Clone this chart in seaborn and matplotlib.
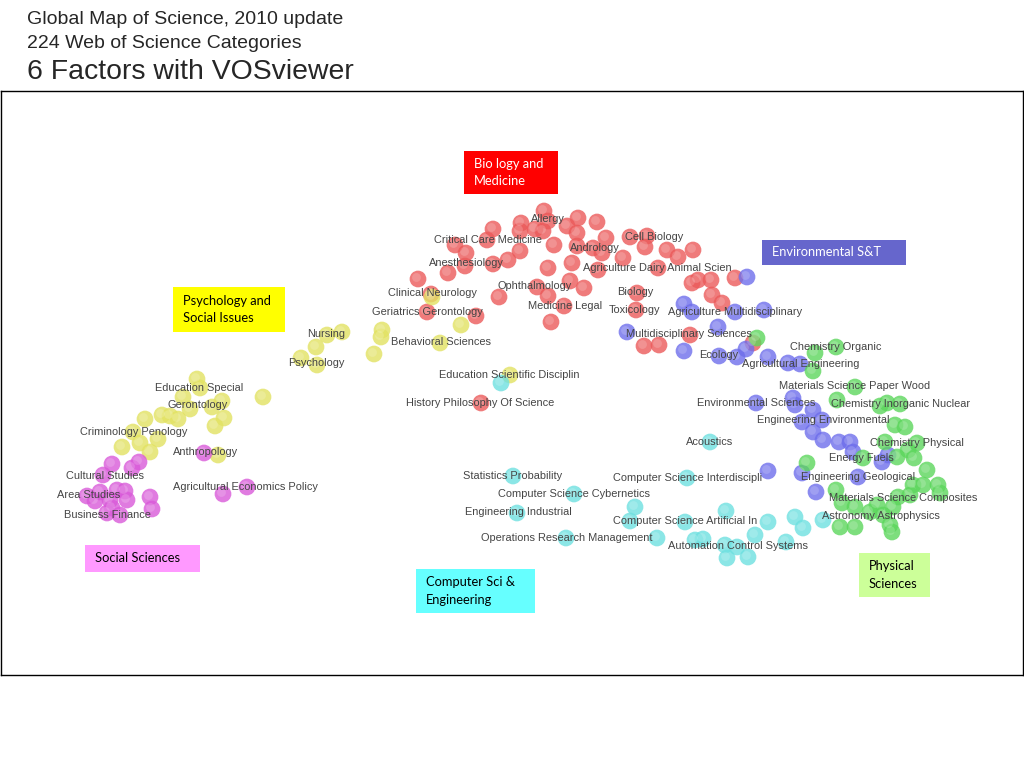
import matplotlib
matplotlib.use("Agg")
import matplotlib.pyplot as plt
import seaborn as sns
import pandas as pd
from matplotlib.patches import Rectangle

# ---------------- data (map coordinates) ----------------
bio_x = [544, 521, 548, 535, 543, 578, 597, 493, 520, 567, 577, 606, 455, 466, 487, 520,
         554, 577, 593, 602, 623, 630, 647, 645, 667, 678, 693, 508, 493, 465, 448, 548,
         572, 598, 658, 418, 537, 548, 570, 584, 499, 564, 551, 427, 476, 637, 636, 692,
         698, 711, 712, 722, 735, 690, 644, 659, 753, 481, 431]
bio_y = [211, 223, 221, 229, 231, 218, 222, 229, 231, 226, 233, 238, 245, 253, 240, 251,
         245, 246, 248, 253, 258, 237, 236, 247, 250, 257, 250, 260, 264, 266, 273, 268,
         263, 270, 268, 279, 287, 296, 281, 288, 297, 306, 322, 312, 316, 293, 310, 283,
         280, 280, 295, 303, 278, 335, 346, 345, 343, 403, 294]

psy_x = [342, 327, 316, 301, 317, 382, 381, 374, 263, 197, 200, 183, 222, 212, 190, 162,
         178, 145, 170, 224, 215, 133, 140, 158, 122, 150, 218, 432, 461, 440, 510]
psy_y = [332, 335, 347, 358, 365, 330, 337, 354, 397, 379, 388, 397, 401, 407, 409, 415,
         419, 419, 416, 418, 426, 432, 443, 439, 447, 452, 455, 297, 325, 343, 375]

soc_x = [204, 112, 139, 132, 103, 87, 95, 117, 125, 110, 127, 150, 152, 107, 120, 223,
         247, 112, 100]
soc_y = [453, 464, 462, 468, 475, 496, 501, 490, 491, 500, 500, 497, 509, 513, 515, 494,
         487, 508, 492]

cs_x = [501, 513, 574, 517, 566, 635, 630, 685, 657, 710, 687, 695, 703, 725, 737, 755,
        768, 726, 727, 748, 786, 795, 803, 823]
cs_y = [383, 476, 494, 513, 538, 507, 521, 522, 538, 442, 478, 540, 539, 545, 547, 535,
        522, 511, 558, 557, 542, 517, 528, 520]

env_x = [747, 684, 692, 735, 764, 718, 627, 684, 719, 737, 746, 768, 788, 800, 756, 793,
         795, 813, 802, 822, 813, 823, 839, 850, 853, 888, 882, 768, 802, 858, 816]
env_y = [277, 304, 312, 312, 310, 327, 332, 351, 356, 357, 349, 357, 363, 364, 403, 398,
         405, 410, 422, 420, 432, 440, 442, 442, 452, 455, 462, 471, 473, 477, 492]

phy_x = [757, 815, 836, 813, 855, 837, 880, 900, 887, 895, 905, 885, 917, 897, 908, 914,
         927, 863, 807, 836, 842, 855, 877, 893, 898, 913, 923, 938, 940, 840, 855, 883,
         890, 892, 870, 910]
phy_y = [338, 353, 347, 371, 387, 400, 406, 404, 403, 425, 427, 442, 443, 457, 450, 458,
         470, 458, 463, 490, 503, 507, 505, 507, 497, 485, 485, 485, 493, 527, 527, 515,
         525, 532, 512, 495]

factor_names = ["Biology and Medicine", "Psychology and Social Issues", "Social Sciences",
                "Computer Sci & Engineering", "Environmental S&T", "Physical Sciences"]

label_text = ["Allergy", "Critical Care Medicine", "Cell Biology", "Andrology", "Anesthesiology",
              "Agriculture Dairy Animal Scien", "Ophthalmology", "Clinical Neurology", "Biology",
              "Medicine Legal", "Toxicology", "Geriatrics Gerontology", "Agriculture Multidisciplinary",
              "Nursing", "Multidisciplinary Sciences", "Behavioral Sciences", "Chemistry Organic",
              "Ecology", "Psychology", "Agricultural Engineering", "Education Scientific Disciplin",
              "Education Special", "Materials Science Paper Wood", "History Philosophy Of Science",
              "Gerontology", "Environmental Sciences", "Chemistry Inorganic Nuclear",
              "Engineering Environmental", "Criminology Penology", "Acoustics", "Chemistry Physical",
              "Anthropology", "Energy Fuels", "Statistics Probability", "Cultural Studies",
              "Computer Science Interdiscipli", "Engineering Geological", "Agricultural Economics Policy",
              "Computer Science Cybernetics", "Area Studies", "Materials Science Composites",
              "Engineering Industrial", "Business Finance", "Astronomy Astrophysics",
              "Computer Science Artificial In", "Operations Research Management",
              "Automation Control Systems"]
label_x = [531, 434, 625, 570, 429, 583, 498, 388, 617, 528, 609, 372, 668, 307, 626, 391, 790,
           699, 288, 742, 439, 155, 779, 406, 167, 697, 831, 757, 80, 686, 870, 173, 829, 463,
           66, 613, 801, 173, 498, 57, 829, 465, 64, 822, 613, 481, 668]
label_y = [219, 240, 237, 248, 263, 268, 286, 293, 292, 306, 310, 312, 312, 334, 334, 342, 347,
           355, 363, 364, 375, 388, 386, 403, 405, 403, 404, 420, 432, 442, 443, 452, 458, 476,
           476, 478, 477, 487, 494, 495, 498, 512, 515, 516, 521, 538, 546]

title_lines = ["Global Map of Science, 2010 update", "224 Web of Science Categories",
               "6 Factors with VOSviewer"]

# ---------------- build table ----------------
frames = []
for name, xs, ys in zip(factor_names,
                        [bio_x, psy_x, soc_x, cs_x, env_x, phy_x],
                        [bio_y, psy_y, soc_y, cs_y, env_y, phy_y]):
    frames.append(pd.DataFrame({"x": xs, "y": ys, "factor": name}))
df = pd.concat(frames, ignore_index=True)

palette = {"Biology and Medicine": "#EB5A5A",
           "Psychology and Social Issues": "#E2E262",
           "Social Sciences": "#D95AD9",
           "Computer Sci & Engineering": "#6EE0E0",
           "Environmental S&T": "#6E6EEB",
           "Physical Sciences": "#5CD65C"}

sns.set_theme(style="white")
plt.rcParams["font.family"] = ["Liberation Sans", "DejaVu Sans"]

fig = plt.figure(figsize=(10.24, 7.68), dpi=100)
ax = fig.add_axes([1 / 1024, 1 - 675 / 768, 1022 / 1024, 584 / 768])

sns.scatterplot(data=df, x="x", y="y", hue="factor", palette=palette, s=145,
                alpha=0.8, edgecolor="none", legend=False, ax=ax, zorder=2)
# soft highlight to mimic the shaded spheres
hl = df.copy()
hl["x"] = hl["x"] - 1.5
hl["y"] = hl["y"] - 1.5
sns.scatterplot(data=hl, x="x", y="y", color="white", s=40, alpha=0.18,
                edgecolor="none", legend=False, ax=ax, zorder=3)

ax.set_xlim(1, 1023)
ax.set_ylim(675, 91)
ax.set_xticks([])
ax.set_yticks([])
ax.set_xlabel("")
ax.set_ylabel("")
for sp in ax.spines.values():
    sp.set_visible(True)
    sp.set_color("black")
    sp.set_linewidth(1.0)

for t, lx, ly in zip(label_text, label_x, label_y):
    ax.text(lx, ly, t, fontsize=7.95, color="#454545", ha="left", va="center", zorder=4)

# factor boxes
boxes = [
    ("Bio logy and\nMedicine", 464, 151, 94, 43, "#FF0000", "white"),
    ("Environmental S&T", 762, 240, 144, 25, "#6666CC", "white"),
    ("Psychology and\nSocial Issues", 173, 287, 112, 45, "#FFFF00", "black"),
    ("Social Sciences", 85, 545, 115, 27, "#FF99FF", "black"),
    ("Computer Sci &\nEngineering", 416, 569, 119, 44, "#66FFFF", "black"),
    ("Physical\nSciences", 859, 553, 71, 44, "#CCFF99", "black"),
]
for txt, bx, by, bw, bh, fc, tc in boxes:
    ax.add_patch(Rectangle((bx, by), bw, bh, facecolor=fc, edgecolor="none", zorder=5))
    ax.text(bx + 10, by + bh / 2, txt, fontsize=9.3, color=tc, ha="left", va="center",
            family=["Lato", "DejaVu Sans"], linespacing=1.5, zorder=6)

fig.text(27 / 1024, 1 - 19 / 768, title_lines[0], fontsize=14, ha="left", va="center")
fig.text(27 / 1024, 1 - 43 / 768, title_lines[1], fontsize=14, ha="left", va="center")
fig.text(27 / 1024, 1 - 72 / 768, title_lines[2], fontsize=20.4, ha="left", va="center")

fig.savefig("out.png", dpi=100)
